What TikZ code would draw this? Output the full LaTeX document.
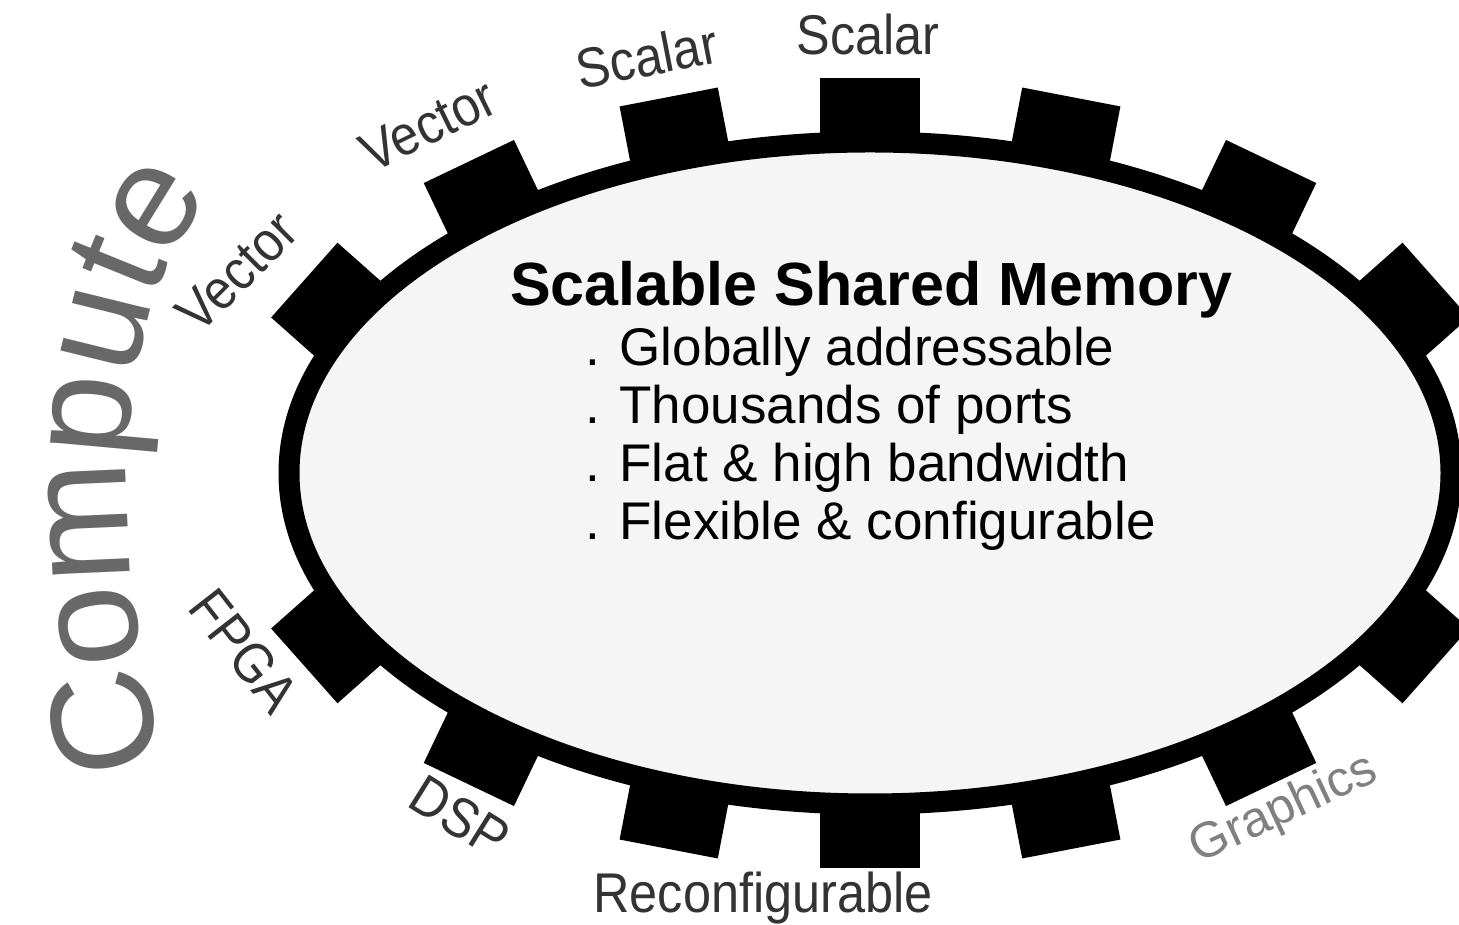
\documentclass[tikz,border=0pt]{standalone}
\usepackage{fontspec}
\setmainfont{Liberation Sans}
\newfontfamily\narrowfont[FakeStretch=0.9]{Liberation Sans}
\usetikzlibrary{shapes.geometric, calc, positioning, decorations.text}
\definecolor{memfill}{RGB}{245,245,245}
\definecolor{labelgray}{RGB}{51,51,51}
\definecolor{computegray}{RGB}{104,104,104}
\definecolor{graphgray}{RGB}{128,128,128}
\tikzstyle{memory} = [ellipse, draw=black, line width=21pt, fill=memfill,
minimum width=1162pt, minimum height=662pt, inner sep=0pt]
\tikzstyle{tooth} = [rectangle, fill=black, minimum width=100pt,
minimum height=64pt, inner sep=0pt, anchor=south]
\tikzstyle{port} = [text=labelgray, inner sep=0pt,
font=\narrowfont\fontsize{56}{60}\selectfont]
\tikzstyle{heading} = [inner sep=0pt, anchor=base west, font=\bfseries\fontsize{61}{72}\selectfont]
\tikzstyle{item} = [inner sep=0pt, anchor=base west, font=\fontsize{53}{64}\selectfont]
\newcommand{\computefont}{\fontsize{146}{146}\selectfont\color{computegray}}

\begin{document}
\begin{tikzpicture}[x=1pt, y=1pt]

      \useasboundingbox (0,0) rectangle (1459,925);
      \clip (0,0) rectangle (1459,925);

      % \draw[help lines, step=50] (0,0) grid (1459,925);

      % ports round the memory
      \foreach \ang [count=\i] in {90,71,50,27,-27,-50,-71,-90,-109,-130,-153,153,130,109}{
        \pgfmathsetmacro{\nrm}{atan2(sin(\ang)/331, cos(\ang)/581)}
        \node[tooth, rotate=\nrm-90] (t\i) at ({870+581*cos(\ang)}, {452+331*sin(\ang)}) {};
      }

      \node[memory] (mem) at (870,452) {};

      \node[heading] (title) at (510,619) {Scalable Shared Memory};
      \node[item] (g1) at (585,559) {. Globally addressable};
      \node[item] (g2) at ([yshift=-58pt]g1.base west) {. Thousands of ports};
      \node[item] (g3) at ([yshift=-58pt]g2.base west) {. Flat \& high bandwidth};
      \node[item] (g4) at ([yshift=-58pt]g3.base west) {. Flexible \& configurable};

      \node[port, anchor=base] (scalarA) at (868,870) {Scalar};
      \node[port, rotate=11] (scalarB) at (647,869) {Scalar};
      \node[port, rotate=26] (vectorA) at (428,800) {Vector};
      \node[port, rotate=45] (vectorB) at (237,653) {Vector};
      \node[port, rotate=-52] (fpga) at (244,274) {FPGA};
      \node[port, rotate=-32] (dsp) at (460,108) {DSP};
      \node[port, anchor=base] (reconf) at (763,12) {Reconfigurable};
      \node[port, rotate=25, text=graphgray, font=\fontsize{50}{56}\selectfont] (graphics) at (1284,115) {Graphics};

      % big word bent along the left side
      \path[decorate, decoration={text along path, text={|\computefont|Compute}}]
        (163,160) .. controls (125,340) and (88,580) .. (215,735) -- (260,775);

\end{tikzpicture}
\end{document}
